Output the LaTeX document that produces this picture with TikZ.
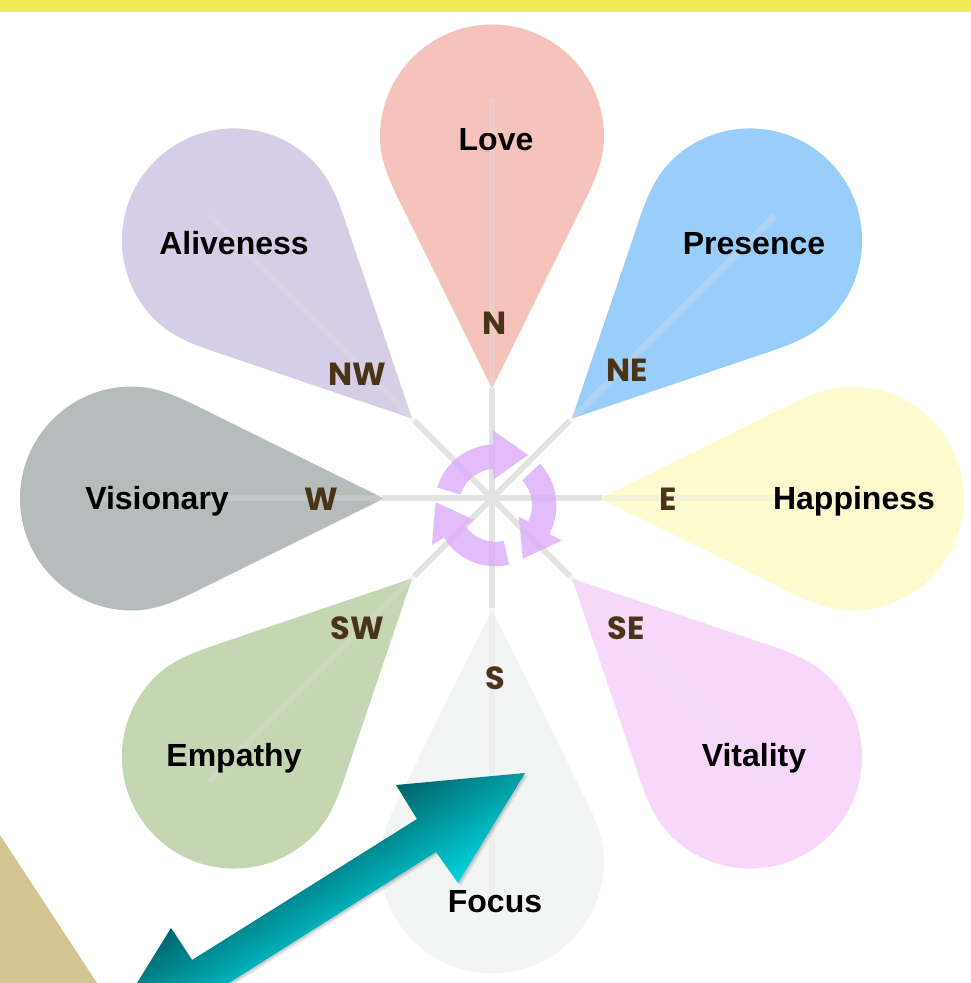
\documentclass[tikz,border=0pt]{standalone}
\usepackage{fontspec}
\setmainfont{Liberation Sans}
\newfontfamily\compassfont{Poppins}
\definecolor{lovecol}{HTML}{F6C2BC}
\definecolor{presencecol}{HTML}{99CEFB}
\definecolor{happinesscol}{HTML}{FDFBCF}
\definecolor{vitalitycol}{HTML}{F8D8FA}
\definecolor{focuscol}{HTML}{F3F4F4}
\definecolor{empathycol}{HTML}{C5D6B3}
\definecolor{visionarycol}{HTML}{B6BBBB}
\definecolor{alivenesscol}{HTML}{D6CEE6}
\definecolor{spokecol}{HTML}{E3E3E3}
\definecolor{cyclecol}{HTML}{DCABFA}
\definecolor{compasscol}{HTML}{4A3418}
\definecolor{barcol}{HTML}{F0EB52}
\definecolor{tancol}{HTML}{D2C591}
\definecolor{tealdark}{HTML}{00626A}
\definecolor{teallight}{HTML}{00D6DE}
\newcommand{\tealoutline}{(525,210) -- (458,100) -- (436,131) -- (229,0) -- (137,0) -- (171,55) -- (192,23) -- (417,164) -- (396,198) -- cycle}
\tikzset{
  petalname/.style={font=\bfseries\fontsize{32}{36}\selectfont,text=black,inner sep=0pt},
  compassname/.style={font=\compassfont\bfseries\fontsize{32}{36}\selectfont,text=compasscol,inner sep=0pt}
}
\begin{document}
\begin{tikzpicture}[x=1pt,y=1pt]
\useasboundingbox (0,0) rectangle (971,983);

%%% BACKGROUND %%%
\fill [barcol] (0,971) rectangle (971,983);
\fill [tancol] (0,148) -- (97,0) -- (0,0) -- cycle;

%%% PETALS %%%
\begin{scope}[shift={(492,484.5)}]
\foreach \ang/\col/\off in {0/lovecol/0,-45/presencecol/3,-90/happinesscol/-2,-135/vitalitycol/3,180/focuscol/1,135/empathycol/3,90/visionarycol/-2,45/alivenesscol/3}{
  \begin{scope}[rotate=\ang]
    \fill [\col,yshift=\off] (0,110) -- (-85,282)
      .. controls (-100,312) and (-112,335) .. (-112,362)
      arc [start angle=180,end angle=0,radius=112]
      .. controls (112,335) and (100,312) .. (85,282) -- cycle;
    \draw [spokecol,line width=6pt,opacity=0.3] (0,110) -- (0,400);
    \draw [spokecol,line width=6pt] (0,0) -- (0,110);
  \end{scope}
}
\end{scope}

%%% CYCLE %%%
\begin{scope}[shift={(495.5,477.7)}]
\foreach \ang in {0,-120,-240}{
  \fill [cyclecol,opacity=0.8,rotate=\ang] (163:61)
    arc [start angle=163,end angle=92,radius=61]
    -- (92:75) -- (57:60) -- (94:26) -- (94:36.5)
    arc [start angle=94,end angle=163,radius=36.5] -- cycle;
}
\end{scope}

%%% TEAL ARROW %%%
\fill [black,opacity=0.08,shift={(3,-3)}] \tealoutline;
\fill [black,opacity=0.12,shift={(1.5,-1.5)}] \tealoutline;
\begin{scope}
\clip \tealoutline;
\begin{scope}[transform canvas={shift={(427,149)},rotate=32}]
  \shade [top color=tealdark,bottom color=teallight] (-400,-58) rectangle (150,58);
\end{scope}
\end{scope}

%%% LABELS %%%
\node [petalname] at (496,843) (love) {Love};
\node [petalname] at (754,739) (presence) {Presence};
\node [petalname] at (854,482) (happiness) {Happiness};
\node [petalname] at (754,225) (vitality) {Vitality};
\node [petalname] at (495,81) (focus) {Focus};
\node [petalname] at (234,225) (empathy) {Empathy};
\node [petalname] at (157,482) (visionary) {Visionary};
\node [petalname] at (234,740) (aliveness) {Aliveness};

\node [compassname] at (495,660) (north) {N};
\node [compassname] at (627,613) (northeast) {NE};
\node [compassname] at (668,484) (east) {E};
\node [compassname] at (626,355) (southeast) {SE};
\node [compassname] at (495,305) (south) {S};
\node [compassname] at (357,355) (southwest) {SW};
\node [compassname] at (321,484) (west) {W};
\node [compassname] at (357,609) (northwest) {NW};
\end{tikzpicture}
\end{document}
